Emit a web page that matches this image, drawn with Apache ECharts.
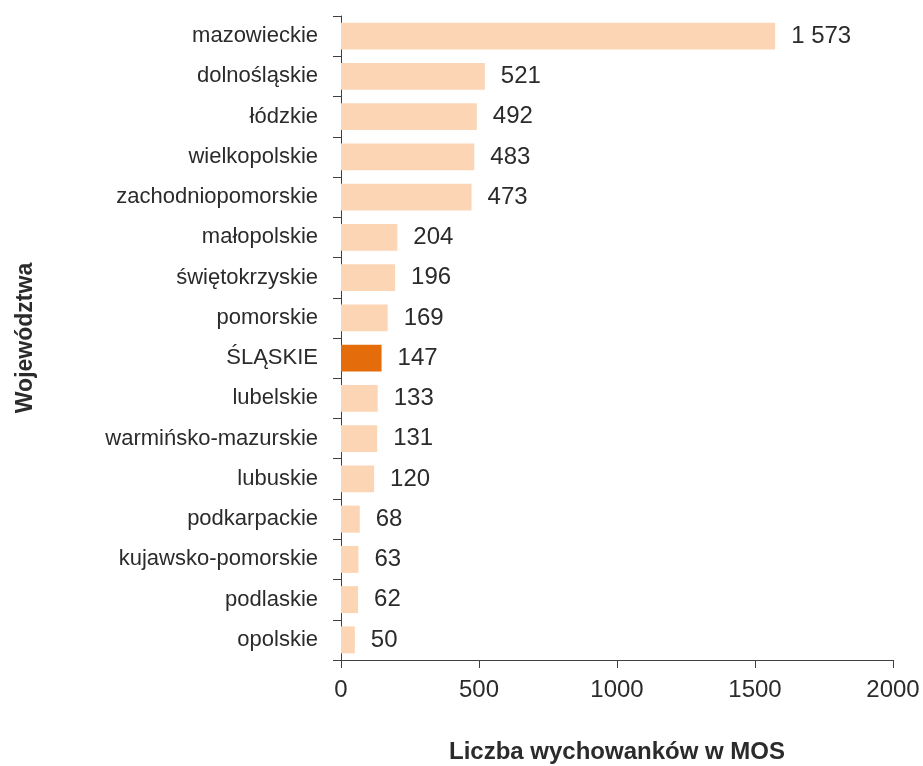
<!DOCTYPE html>
<html>
<head>
<meta charset="utf-8">
<script src="https://cdn.jsdelivr.net/npm/echarts@6/dist/echarts.min.js"></script>
<style>
  html, body { margin: 0; padding: 0; background: #fff; }
  #chart { width: 923px; height: 766px; }
</style>
</head>
<body>
<div id="chart"></div>
<script>
// województwa, od góry do dołu
var wojewodztwa = ['mazowieckie', 'dolnośląskie', 'łódzkie', 'wielkopolskie', 'zachodniopomorskie',
    'małopolskie', 'świętokrzyskie', 'pomorskie', 'ŚLĄSKIE', 'lubelskie', 'warmińsko-mazurskie',
    'lubuskie', 'podkarpackie', 'kujawsko-pomorskie', 'podlaskie', 'opolskie'];
var wychowankowie = [1573, 521, 492, 483, 473, 204, 196, 169, 147, 133, 131, 120, 68, 63, 62, 50];
var wyroznione = 'ŚLĄSKIE';

var FONT = '"Liberation Sans Narrow", "Arial Narrow", "Liberation Sans", sans-serif';
var TEXT = '#2b2b2b';

function fmt(v) {
    // separator tysięcy: spacja
    return String(v).replace(/\B(?=(\d{3})+(?!\d))/g, ' ');
}

var option = {
    animation: false,
    textStyle: { fontFamily: FONT },
    grid: { left: 341, right: 30, top: 16, bottom: 106, containLabel: false, outerBoundsMode: 'none' },
    xAxis: {
        type: 'value',
        min: 0,
        max: 2000,
        interval: 500,
        name: 'Liczba wychowanków w MOS',
        nameLocation: 'middle',
        nameGap: 80,
        nameTextStyle: { fontFamily: FONT, fontSize: 24, fontWeight: 'bold', color: TEXT },
        axisLine: { show: true, lineStyle: { color: '#404040', width: 1 } },
        axisTick: { show: true, length: 8, lineStyle: { color: '#404040' } },
        axisLabel: { fontFamily: FONT, fontSize: 24, color: TEXT, margin: 18,
            formatter: function (v) { return String(v); } },
        splitLine: { show: false }
    },
    yAxis: {
        type: 'category',
        data: wojewodztwa,
        inverse: true,
        name: 'Województwa',
        nameLocation: 'middle',
        nameGap: 304,
        nameRotate: 90,
        nameTextStyle: { fontFamily: FONT, fontSize: 23, fontWeight: 'bold', color: TEXT },
        axisLine: { show: true, lineStyle: { color: '#404040', width: 1 } },
        axisTick: { show: true, length: 8, alignWithLabel: false, lineStyle: { color: '#404040' } },
        axisLabel: { fontFamily: FONT, fontSize: 22, color: TEXT, margin: 23 }
    },
    series: [{
        type: 'bar',
        data: wychowankowie.map(function (v, i) {
            return {
                value: v,
                itemStyle: { color: wojewodztwa[i] === wyroznione ? '#E46C0A' : '#FCD5B5' }
            };
        }),
        barCategoryGap: '33%',
        label: {
            show: true,
            position: 'right',
            distance: 16,
            fontFamily: FONT,
            fontSize: 24,
            color: TEXT,
            formatter: function (p) { return fmt(p.value); }
        }
    }]
};

var chart = echarts.init(document.getElementById('chart'), null, { renderer: 'canvas' });
chart.setOption(option);
</script>
</body>
</html>
